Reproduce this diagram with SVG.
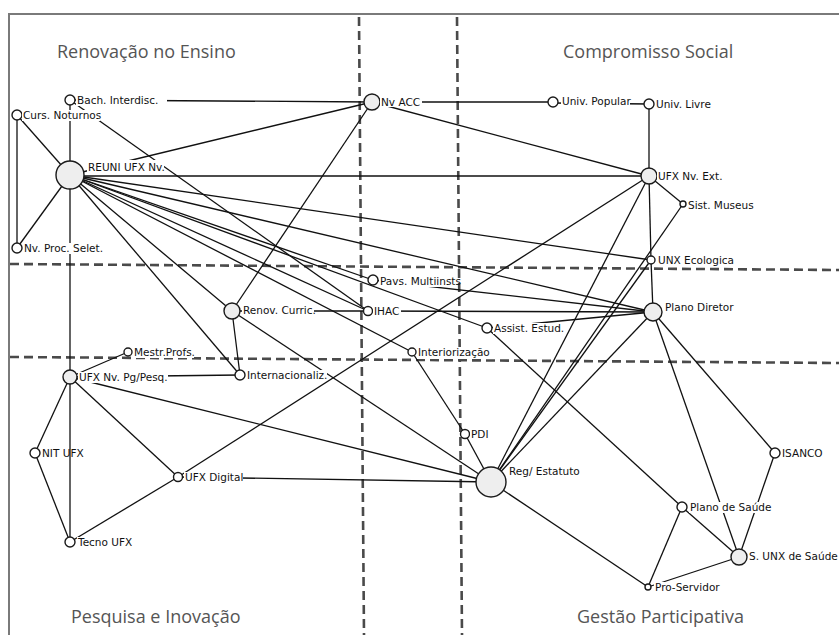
<svg xmlns="http://www.w3.org/2000/svg" width="839" height="635" viewBox="0 0 839 635">
<style>
.frame{stroke:#7a7a7a;stroke-width:2;fill:none}
.dash{stroke:#4a4a4a;stroke-width:2.6;stroke-dasharray:9 5;fill:none}
.edges line{stroke:#111;stroke-width:1.3}
.n{fill:#fff;stroke:#1a1a1a;stroke-width:1.4}
.b{fill:#eeeeee;stroke:#1a1a1a;stroke-width:1.4}
.bg{fill:#fff}
.lbl{font-family:"DejaVu Sans",Verdana,sans-serif;font-size:10.5px;fill:#111}
.title{font-family:"Open Sans","Liberation Sans",sans-serif;font-size:18px;fill:#555}
</style>
<rect x="0" y="0" width="839" height="635" fill="#fff"/>
<path class="frame" d="M9,635 V14 H839"/>
<g id="grid">
<line class="dash" x1="359" y1="17" x2="364" y2="635"/>
<line class="dash" x1="457" y1="17" x2="462" y2="635"/>
<line class="dash" x1="10" y1="264" x2="839" y2="270"/>
<line class="dash" x1="10" y1="357" x2="839" y2="363"/>
</g>
<g id="titles">
<text class="title" x="57" y="58">Renovação no Ensino</text>
<text class="title" x="563" y="58">Compromisso Social</text>
<text class="title" x="71" y="623">Pesquisa e Inovação</text>
<text class="title" x="577" y="623">Gestão Participativa</text>
</g>
<g id="connectors" class="edges">
<line x1="70" y1="100" x2="372" y2="102"/>
<line x1="70" y1="100" x2="70" y2="175"/>
<line x1="70" y1="100" x2="368" y2="311"/>
<line x1="17" y1="115" x2="70" y2="175"/>
<line x1="17" y1="115" x2="17" y2="248"/>
<line x1="17" y1="248" x2="70" y2="175"/>
<line x1="70" y1="175" x2="372" y2="102"/>
<line x1="70" y1="176" x2="649" y2="176"/>
<line x1="70" y1="175" x2="651" y2="260"/>
<line x1="70" y1="175" x2="653" y2="312"/>
<line x1="70" y1="175" x2="373" y2="280"/>
<line x1="70" y1="175" x2="368" y2="311"/>
<line x1="70" y1="175" x2="487" y2="328"/>
<line x1="70" y1="175" x2="412" y2="352"/>
<line x1="70" y1="175" x2="232" y2="311"/>
<line x1="70" y1="175" x2="240" y2="375"/>
<line x1="70" y1="175" x2="70" y2="377"/>
<line x1="372" y1="102" x2="553" y2="102"/>
<line x1="372" y1="102" x2="649" y2="176"/>
<line x1="372" y1="102" x2="232" y2="311"/>
<line x1="553" y1="103" x2="649" y2="104"/>
<line x1="649" y1="104" x2="649" y2="176"/>
<line x1="649" y1="176" x2="683" y2="204"/>
<line x1="649" y1="176" x2="651" y2="260"/>
<line x1="649" y1="176" x2="491" y2="482"/>
<line x1="649" y1="176" x2="178" y2="477"/>
<line x1="683" y1="204" x2="491" y2="482"/>
<line x1="651" y1="260" x2="653" y2="312"/>
<line x1="651" y1="260" x2="491" y2="482"/>
<line x1="373" y1="280" x2="653" y2="312"/>
<line x1="368" y1="311" x2="653" y2="312"/>
<line x1="487" y1="328" x2="653" y2="312"/>
<line x1="232" y1="311" x2="368" y2="311"/>
<line x1="232" y1="311" x2="240" y2="375"/>
<line x1="232" y1="311" x2="491" y2="482"/>
<line x1="70" y1="377" x2="240" y2="375"/>
<line x1="70" y1="377" x2="128" y2="352"/>
<line x1="70" y1="377" x2="35" y2="453"/>
<line x1="70" y1="377" x2="70" y2="542"/>
<line x1="70" y1="377" x2="178" y2="477"/>
<line x1="70" y1="377" x2="491" y2="482"/>
<line x1="35" y1="453" x2="70" y2="542"/>
<line x1="70" y1="542" x2="178" y2="477"/>
<line x1="178" y1="477" x2="491" y2="482"/>
<line x1="412" y1="352" x2="465" y2="434"/>
<line x1="465" y1="434" x2="491" y2="482"/>
<line x1="653" y1="312" x2="491" y2="482"/>
<line x1="653" y1="312" x2="739" y2="557"/>
<line x1="653" y1="312" x2="775" y2="453"/>
<line x1="775" y1="453" x2="739" y2="557"/>
<line x1="487" y1="328" x2="682" y2="507"/>
<line x1="682" y1="507" x2="739" y2="557"/>
<line x1="682" y1="507" x2="648" y2="587"/>
<line x1="648" y1="587" x2="739" y2="557"/>
<line x1="491" y1="482" x2="648" y2="587"/>
</g>
<g id="bach"><circle class="n" cx="70" cy="100" r="5"/><rect class="bg" x="76" y="95" width="91" height="11"/><text class="lbl" x="77" y="104">Bach. Interdisc.</text></g>
<g id="curs"><circle class="n" cx="17" cy="115" r="5"/><rect class="bg" x="22" y="110" width="78" height="11"/><text class="lbl" x="23" y="119">Curs. Noturnos</text></g>
<g id="reuni"><circle class="b" cx="70" cy="175" r="14"/><rect class="bg" x="87" y="160" width="77" height="12"/><text class="lbl" x="88" y="171">REUNI UFX Nv.</text></g>
<g id="nvacc"><circle class="b" cx="372" cy="102" r="8"/><rect class="bg" x="380" y="97" width="42" height="10"/><text class="lbl" x="381" y="106">Nv ACC</text></g>
<g id="univpop"><circle class="n" cx="553" cy="102" r="5"/><rect class="bg" x="561" y="96" width="69" height="11"/><text class="lbl" x="562" y="105">Univ. Popular</text></g>
<g id="univlivre"><circle class="n" cx="649" cy="104" r="5"/><rect class="bg" x="655" y="99" width="55" height="11"/><text class="lbl" x="656" y="108">Univ. Livre</text></g>
<g id="ufxext"><circle class="b" cx="649" cy="176" r="8"/><rect class="bg" x="657" y="171" width="65" height="10"/><text class="lbl" x="658" y="180">UFX Nv. Ext.</text></g>
<g id="sist"><circle class="n" cx="683" cy="204" r="3"/><rect class="bg" x="687" y="200" width="64" height="11"/><text class="lbl" x="688" y="209">Sist. Museus</text></g>
<g id="nvproc"><circle class="n" cx="17" cy="248" r="5"/><rect class="bg" x="23" y="243" width="80" height="11"/><text class="lbl" x="24" y="252">Nv. Proc. Selet.</text></g>
<g id="pavs"><circle class="n" cx="373" cy="280" r="5"/><rect class="bg" x="379" y="276" width="77" height="11"/><text class="lbl" x="380" y="285">Pavs. Multiinsts</text></g>
<g id="renov"><circle class="b" cx="232" cy="311" r="8"/><rect class="bg" x="242" y="305" width="72" height="11"/><text class="lbl" x="243" y="314">Renov. Curric.</text></g>
<g id="ihac"><circle class="n" cx="368" cy="311" r="4.5"/><rect class="bg" x="373" y="306" width="28" height="11"/><text class="lbl" x="374" y="315">IHAC</text></g>
<g id="assist"><circle class="n" cx="487" cy="328" r="5"/><rect class="bg" x="493" y="323" width="68" height="11"/><text class="lbl" x="494" y="332">Assist. Estud.</text></g>
<g id="interior"><circle class="n" cx="412" cy="352" r="4"/><rect class="bg" x="417" y="347" width="70" height="12"/><text class="lbl" x="418" y="356">Interiorização</text></g>
<g id="mestr"><circle class="n" cx="128" cy="352" r="4"/><rect class="bg" x="133" y="347" width="61" height="11"/><text class="lbl" x="134" y="356">Mestr.Profs.</text></g>
<g id="ufxpg"><circle class="b" cx="70" cy="377" r="7"/><rect class="bg" x="78" y="372" width="90" height="11"/><text class="lbl" x="79" y="381">UFX Nv. Pg/Pesq.</text></g>
<g id="internac"><circle class="n" cx="240" cy="375" r="5"/><rect class="bg" x="246" y="370" width="81" height="11"/><text class="lbl" x="247" y="379">Internacionaliz.</text></g>
<g id="unxeco"><circle class="n" cx="651" cy="260" r="4"/><rect class="bg" x="657" y="255" width="74" height="11"/><text class="lbl" x="658" y="264">UNX Ecologica</text></g>
<g id="plano"><circle class="b" cx="653" cy="312" r="9"/><rect class="bg" x="664" y="302" width="67" height="11"/><text class="lbl" x="665" y="311">Plano Diretor</text></g>
<g id="nit"><circle class="n" cx="35" cy="453" r="5"/><text class="lbl" x="42" y="457">NIT UFX</text></g>
<g id="ufxdig"><circle class="n" cx="178" cy="477" r="4.5"/><rect class="bg" x="184" y="472" width="59" height="11"/><text class="lbl" x="185" y="481">UFX Digital</text></g>
<g id="tecno"><circle class="n" cx="70" cy="542" r="5"/><rect class="bg" x="77" y="537" width="55" height="11"/><text class="lbl" x="78" y="546">Tecno UFX</text></g>
<g id="pdi"><circle class="n" cx="465" cy="434" r="4.5"/><rect class="bg" x="470" y="429" width="20" height="11"/><text class="lbl" x="471" y="438">PDI</text></g>
<g id="reg"><circle class="b" cx="491" cy="482" r="15"/><rect class="bg" x="508" y="466" width="70" height="12"/><text class="lbl" x="509" y="475">Reg/ Estatuto</text></g>
<g id="isanco"><circle class="n" cx="775" cy="453" r="5"/><rect class="bg" x="781" y="448" width="41" height="11"/><text class="lbl" x="782" y="457">ISANCO</text></g>
<g id="plsaude"><circle class="n" cx="682" cy="507" r="5"/><rect class="bg" x="689" y="502" width="77" height="11"/><text class="lbl" x="690" y="511">Plano de Saúde</text></g>
<g id="sunx"><circle class="b" cx="739" cy="557" r="8"/><rect class="bg" x="748" y="551" width="88" height="11"/><text class="lbl" x="749" y="560">S. UNX de Saúde</text></g>
<g id="proserv"><circle class="n" cx="648" cy="587" r="3"/><rect class="bg" x="654" y="582" width="62" height="11"/><text class="lbl" x="655" y="591">Pro-Servidor</text></g>
</svg>
